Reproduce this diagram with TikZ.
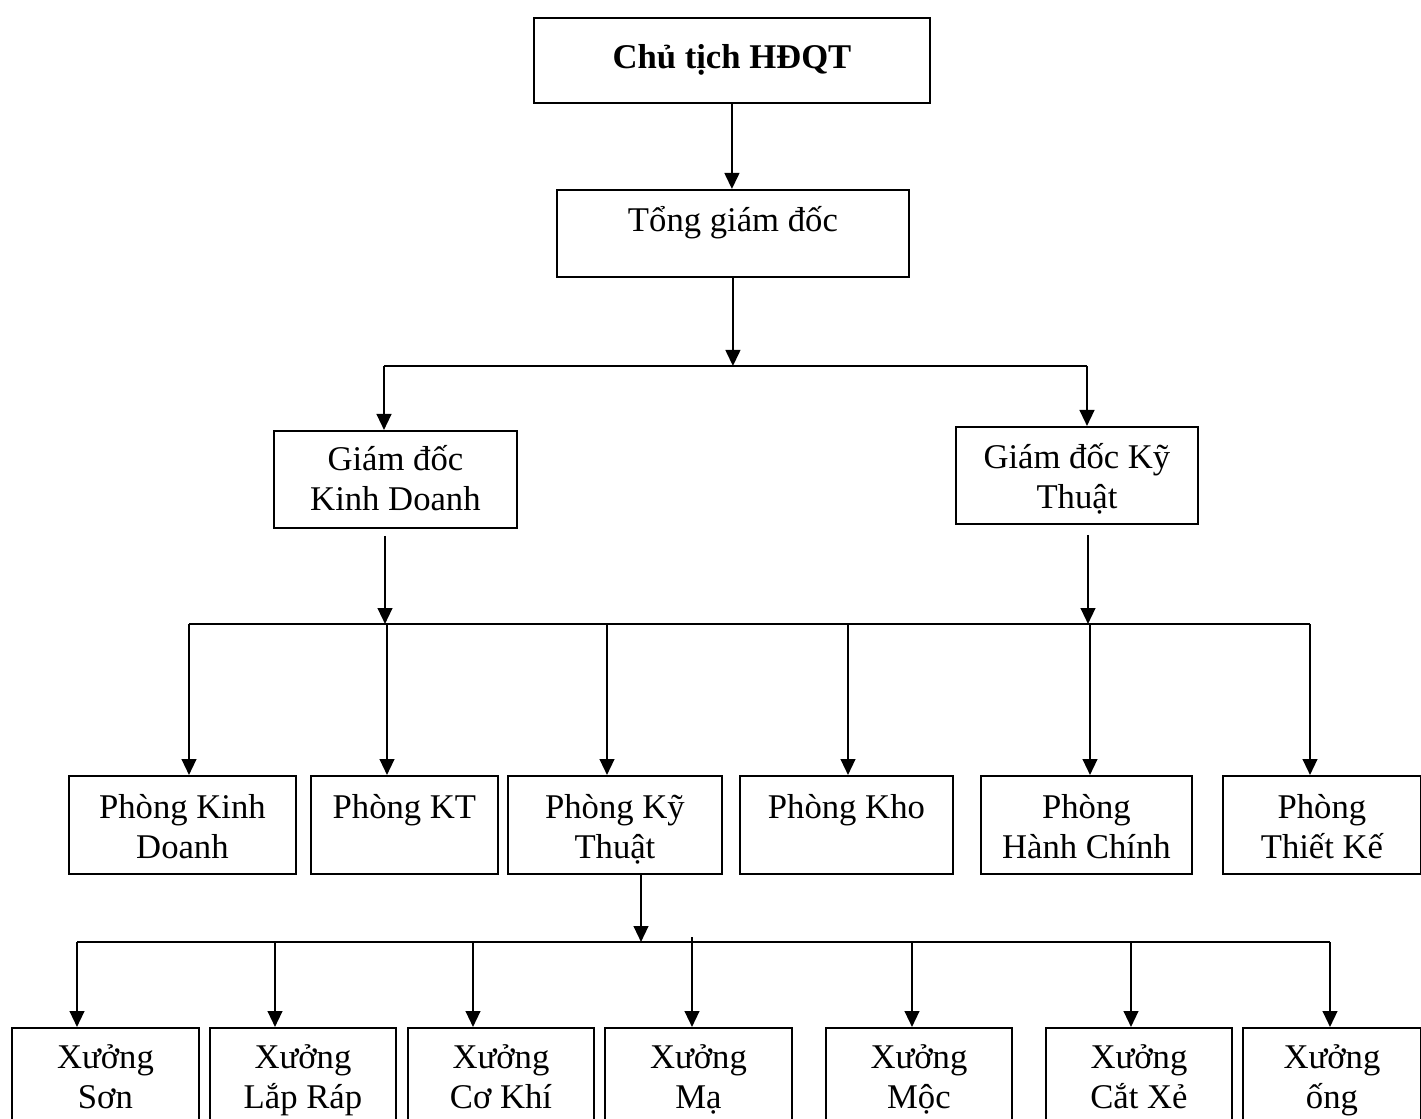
\documentclass[tikz,border=0pt]{standalone}
\usepackage{fontspec}
\setmainfont{Liberation Serif}
\usepackage{tikz}
\usetikzlibrary{arrows.meta}
\newlength\unitpx
\setlength\unitpx{0.75pt}
\tikzstyle{orgbox} = [draw=black, line width=1.4pt, rectangle, inner sep=0pt,
    anchor=north west, font=\fontsize{26}{30}\selectfont]
\tikzstyle{link} = [draw=black, line width=1.7pt]
\tikzstyle{linkarrow} = [link, -{Triangle[length=12pt, width=11pt]}]
\newcommand{\boxbody}[4][42]{%
    \begin{minipage}[t][#3\unitpx][t]{#2\unitpx}\centering\rule{0pt}{#1\unitpx}#4\end{minipage}}

\begin{document}
\begin{tikzpicture}[x=0.75pt, y=-0.75pt]
                \clip (0,0) rectangle (1421,1119);
                % top levels
                \node[orgbox] (chu) at (533,17) {\boxbody[51]{396}{85}{\textbf{Chủ tịch HĐQT}}};
                \node[orgbox] (tong) at (556,189) {\boxbody{352}{87}{Tổng giám đốc}};
                \node[orgbox] (gdkd) at (273,430) {\boxbody[40]{243}{97}{Giám đốc\\Kinh Doanh}};
                \node[orgbox] (gdkt) at (955,426) {\boxbody{242}{97}{Giám đốc Kỹ\\Thuật}};
                % phong
                \node[orgbox] (pkd) at (68,775) {\boxbody[43]{227}{98}{Phòng Kinh\\Doanh}};
                \node[orgbox] (pkt) at (310,775) {\boxbody[43]{187}{98}{Phòng KT}};
                \node[orgbox] (pky) at (507,775) {\boxbody[43]{214}{98}{Phòng Kỹ\\Thuật}};
                \node[orgbox] (pkho) at (739,775) {\boxbody[43]{213}{98}{Phòng Kho}};
                \node[orgbox] (phc) at (980,775) {\boxbody[43]{211}{98}{Phòng\\Hành Chính}};
                \node[orgbox] (ptk) at (1222,775) {\boxbody[43]{198}{98}{Phòng\\Thiết Kế}};
                % xuong
                \node[orgbox] (xson) at (11,1027) {\boxbody[41]{187}{120}{Xưởng\\Sơn}};
                \node[orgbox] (xlr) at (209,1027) {\boxbody[41]{186}{120}{Xưởng\\Lắp Ráp}};
                \node[orgbox] (xck) at (407,1027) {\boxbody[41]{186}{120}{Xưởng\\Cơ Khí}};
                \node[orgbox] (xma) at (604,1027) {\boxbody[41]{187}{120}{Xưởng\\Mạ}};
                \node[orgbox] (xmoc) at (825,1027) {\boxbody[41]{186}{120}{Xưởng\\Mộc}};
                \node[orgbox] (xcx) at (1045,1027) {\boxbody[41]{186}{120}{Xưởng\\Cắt Xẻ}};
                \node[orgbox] (xong) at (1242,1027) {\boxbody[41]{178}{120}{Xưởng\\ống}};

                \coordinate (b1L) at (384,366);
                \coordinate (b1R) at (1087,366);
                \coordinate (b2L) at (189,624);
                \coordinate (b2R) at (1310,624);
                \coordinate (b3L) at (77,942);
                \coordinate (b3R) at (1330,942);

                \draw[linkarrow] (chu.south) -- (chu.south |- tong.north);
                \draw[linkarrow] (tong.south) -- (tong.south |- b1L);
                \draw[link] (b1L) -- (b1R);
                \draw[linkarrow] (b1L) -- (b1L |- gdkd.north);
                \draw[linkarrow] (b1R) -- (b1R |- gdkt.north);

                \draw[link] (b2L) -- (b2R);
                \draw[linkarrow] (385,536) -- (385,0 |- b2L);
                \draw[linkarrow] (1088,535) -- (1088,0 |- b2R);
                \foreach \x/\n in {189/pkd, 387/pkt, 607/pky, 848/pkho, 1090/phc, 1310/ptk}
                    \draw[linkarrow] (\x,0 |- b2L) -- (\x,0 |- \n.north);

                \draw[link] (b3L) -- (b3R);
                \draw[linkarrow] (641,0 |- pky.south) -- (641,0 |- b3L);
                \foreach \x/\n in {77/xson, 275/xlr, 473/xck, 912/xmoc, 1131/xcx, 1330/xong}
                    \draw[linkarrow] (\x,0 |- b3L) -- (\x,0 |- \n.north);
                \draw[linkarrow] (692,937) -- (692,0 |- xma.north);
\end{tikzpicture}
\end{document}
